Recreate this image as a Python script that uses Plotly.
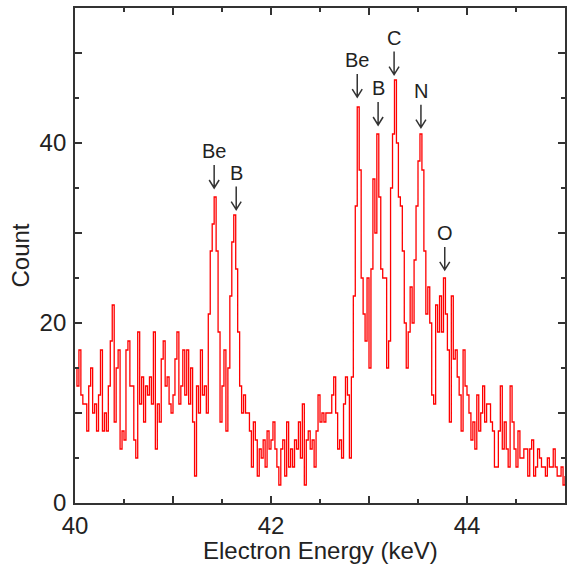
import plotly.graph_objects as go

# ---- data ----
energy_start = 40.0
bin_width = 0.02

counts_40 = [15, 13, 17, 12, 11, 11, 8, 13, 15, 10,
             11, 8, 12, 17, 8, 10, 8, 13, 18, 22,
             9, 15, 17, 6, 8, 7, 17, 18, 13, 13,
             7, 5, 19, 11, 14, 9, 13, 12, 14, 11,
             19, 6, 11, 9, 16, 18, 13, 14, 11, 10]
counts_41 = [12, 16, 19, 11, 13, 17, 12, 17, 11, 15,
             9, 3, 13, 10, 17, 12, 13, 10, 21, 28,
             31, 34, 28, 19, 9, 13, 17, 8, 15, 23,
             29, 32, 26, 19, 13, 10, 12, 10, 10, 8,
             4, 9, 7, 3, 6, 5, 7, 4, 8, 6]
counts_42 = [7, 9, 6, 4, 2, 6, 7, 3, 9, 4,
             6, 4, 7, 6, 9, 5, 11, 2, 7, 8,
             6, 7, 4, 8, 12, 9, 10, 9, 10, 10,
             10, 12, 14, 10, 6, 7, 5, 11, 14, 12,
             5, 14, 23, 33, 44, 37, 25, 21, 18, 25]
counts_43 = [15, 26, 36, 30, 41, 34, 26, 25, 25, 15,
             18, 35, 41, 47, 40, 34, 33, 28, 20, 15,
             19, 24, 20, 27, 33, 38, 41, 37, 28, 21,
             24, 20, 12, 11, 22, 19, 23, 19, 25, 21,
             17, 9, 23, 16, 17, 14, 12, 8, 17, 13]
counts_44 = [12, 10, 7, 9, 6, 12, 8, 10, 13, 9,
             11, 11, 9, 8, 4, 4, 8, 13, 6, 9,
             6, 4, 13, 9, 6, 4, 8, 5, 5, 6,
             6, 3, 6, 7, 3, 4, 6, 5, 4, 4,
             3, 5, 4, 4, 6, 4, 3, 3, 4, 2, 3]

counts = counts_40 + counts_41 + counts_42 + counts_43 + counts_44
energy = [round(energy_start + bin_width * i, 4) for i in range(len(counts))]

peak_labels = ["Be", "B", "Be", "B", "C", "N", "O"]
peak_energy = [41.42, 41.645, 42.88, 43.093, 43.256, 43.53, 43.773]
arrow_tip = [35.0, 32.6, 45.1, 42.0, 47.6, 41.7, 25.9]

x_tickvals = [40, 41, 42, 43, 44, 45]
x_ticktext = ["40", "", "42", "", "44", ""]
y_tickvals = [0, 10, 20, 30, 40, 50]
y_ticktext = ["0", "", "20", "", "40", ""]

# ---- layout geometry ----
W, H = 567, 567
ml, mr, mt, mb = 75, 0, 8, 64
xr = [40, 45]
yr = [0, 55]
plot_w = W - ml - mr
plot_h = H - mt - mb
px_x = plot_w / (xr[1] - xr[0])
px_y = plot_h / (yr[1] - yr[0])

fig = go.Figure()
fig.add_trace(go.Scatter(
    x=energy, y=counts, mode="lines",
    line=dict(color="#ff0000", width=1.3, shape="hv"),
    showlegend=False, hoverinfo="skip"))

font_family = "Arial, Liberation Sans, sans-serif"
axis_col = "#333333"

shapes = []
annotations = []
arrow_len = 23 / px_y
head_dx = 5 / px_x
head_dy = 8 / px_y
for lab, xe, tip in zip(peak_labels, peak_energy, arrow_tip):
    top = tip + arrow_len
    path = (f"M {xe},{top} L {xe},{tip} "
            f"M {xe - head_dx},{tip + head_dy} L {xe},{tip} L {xe + head_dx},{tip + head_dy}")
    shapes.append(dict(type="path", path=path, xref="x", yref="y",
                       line=dict(color="#333333", width=1.5)))
    annotations.append(dict(x=xe, y=top, xref="x", yref="y", text=lab,
                            showarrow=False, yanchor="bottom", yshift=1,
                            font=dict(family=font_family, size=20, color="#222222")))

annotations.append(dict(x=0.5, y=0, xref="paper", yref="paper",
                        text="Electron Energy (keV)", showarrow=False,
                        yanchor="middle", yshift=-47,
                        font=dict(family=font_family, size=24, color="#222222")))
annotations.append(dict(x=0, y=0.5, xref="paper", yref="paper",
                        text="Count", showarrow=False, textangle=-90,
                        xanchor="center", xshift=-55,
                        font=dict(family=font_family, size=24, color="#222222")))

axis_common = dict(showgrid=False, zeroline=False, showline=True, linecolor=axis_col,
                   linewidth=1.8, mirror="ticks", ticks="inside", ticklen=7,
                   tickwidth=1.5, tickcolor=axis_col,
                   tickfont=dict(family=font_family, size=24, color="#222222"))

fig.update_layout(
    width=W, height=H,
    margin=dict(l=ml, r=mr, t=mt, b=mb),
    paper_bgcolor="white", plot_bgcolor="white",
    xaxis=dict(range=xr, tickmode="array", tickvals=x_tickvals, ticktext=x_ticktext,
               minor=dict(dtick=0.5, ticks="inside", ticklen=4, tickwidth=1.5, tickcolor=axis_col),
               **axis_common),
    yaxis=dict(range=yr, tickmode="array", tickvals=y_tickvals, ticktext=y_ticktext,
               minor=dict(dtick=5, ticks="inside", ticklen=4, tickwidth=1.5, tickcolor=axis_col),
               ticklabelstandoff=2,
               **axis_common),
    shapes=shapes,
    annotations=annotations,
)

fig.write_html("out.html", config={"displayModeBar": False},
               post_script="document.body.style.margin='0';document.body.style.overflow='hidden';")
